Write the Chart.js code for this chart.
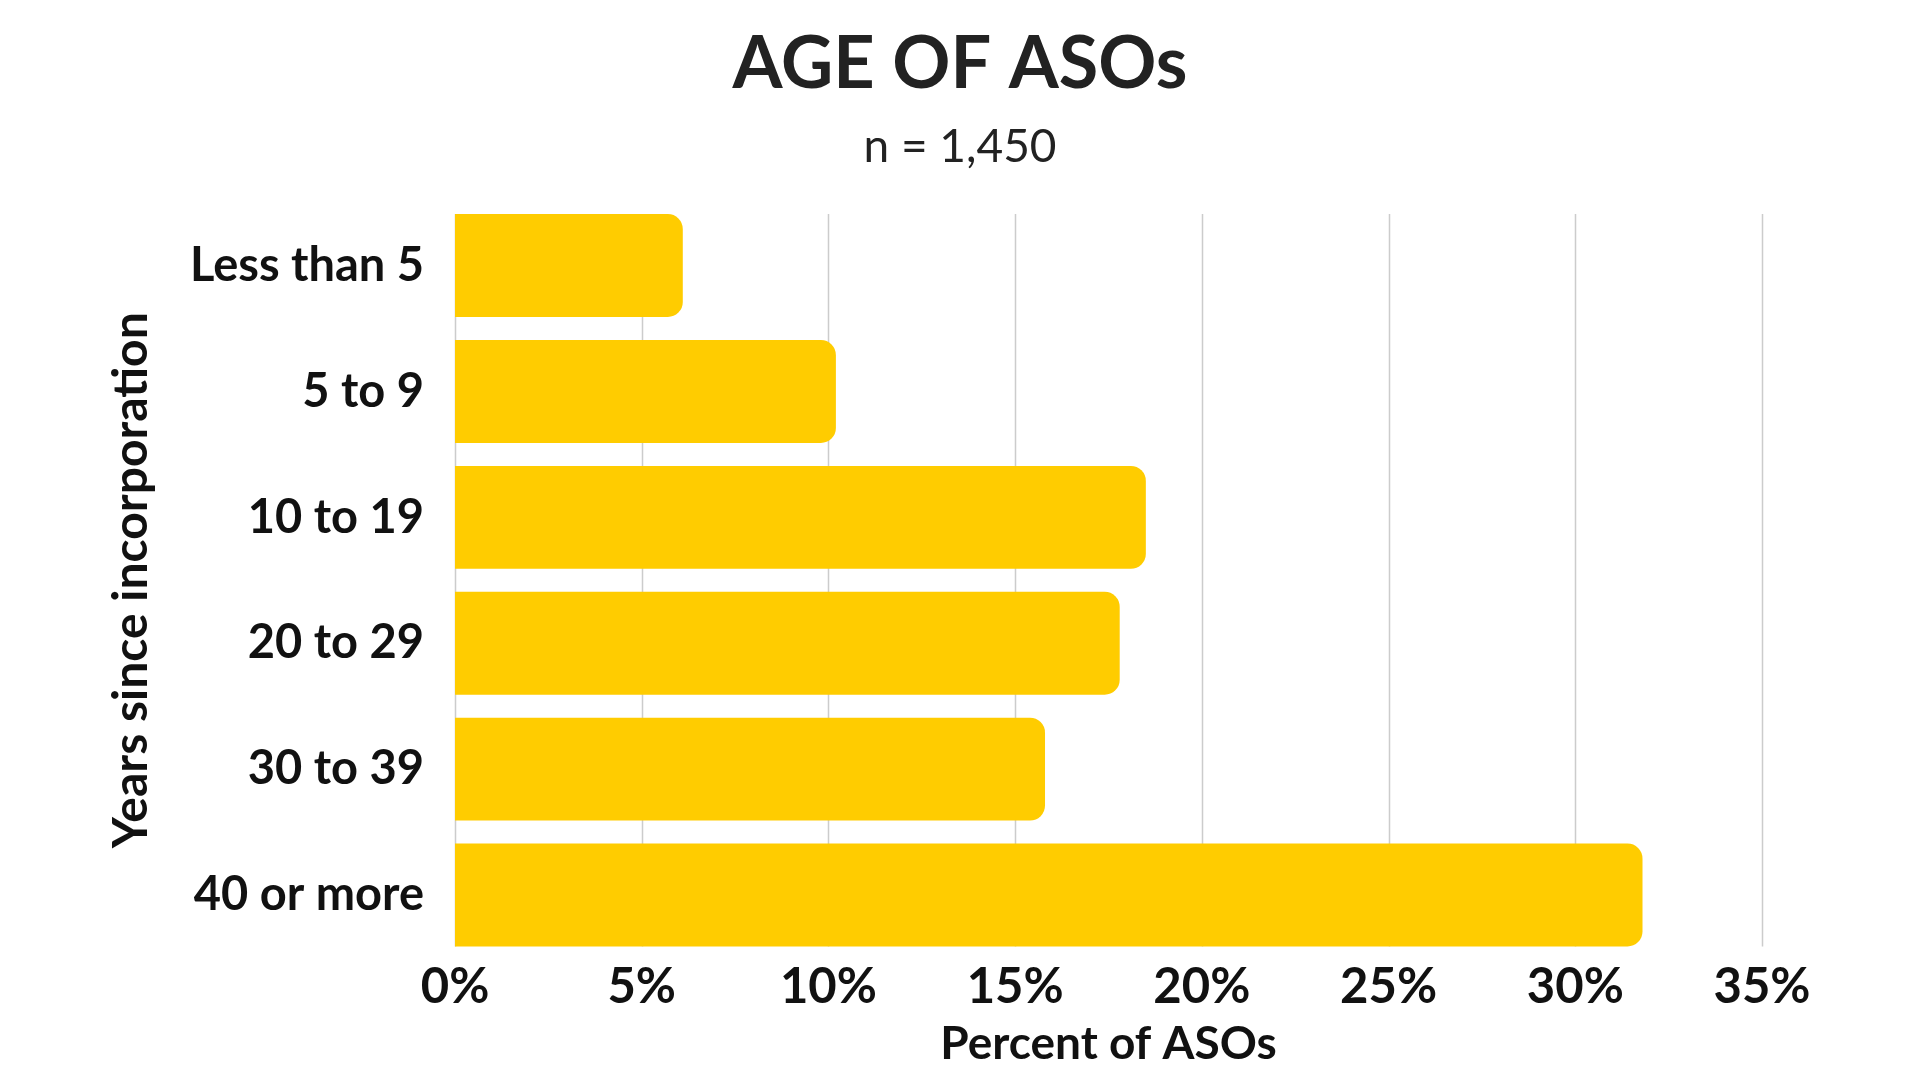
<!DOCTYPE html>
<html>
<head>
<meta charset="utf-8">
<script src="https://cdn.jsdelivr.net/npm/chart.js@4"></script>
<style>
html,body{margin:0;padding:0;background:#fff;}
#wrap{width:1920px;height:1080px;}
</style>
</head>
<body>
<div id="wrap"><canvas id="c" width="1920" height="1080"></canvas></div>
<script>
const categories = ["Less than 5", "5 to 9", "10 to 19", "20 to 29", "30 to 39", "40 or more"];
const percentValues = [6.1, 10.2, 18.5, 17.8, 15.8, 31.8];
const tickValues = [0, 5, 10, 15, 20, 25, 30, 35];

const FONT = "Lato, 'Open Sans', sans-serif";
const INK = "#111111";
const BAR = "#FFCC00";
const GRID = "#cccccc";

const gridPlugin = {
  id: 'barGrid',
  beforeDatasetsDraw(chart) {
    const x = chart.scales.x;
    const meta = chart.getDatasetMeta(0);
    const first = meta.data[0], last = meta.data[meta.data.length - 1];
    const top = first.y - first.height / 2;
    const bottom = last.y + last.height / 2;
    const ctx = chart.ctx;
    ctx.save();
    ctx.strokeStyle = GRID;
    ctx.lineWidth = 1.5;
    x.ticks.forEach(t => {
      const px = Math.round(x.getPixelForValue(t.value)) + 0.5;
      ctx.beginPath();
      ctx.moveTo(px, top);
      ctx.lineTo(px, bottom);
      ctx.stroke();
    });
    ctx.restore();
  }
};

new Chart(document.getElementById('c'), {
  type: 'bar',
  data: {
    labels: categories,
    datasets: [{
      data: percentValues,
      backgroundColor: BAR,
      borderRadius: 15,
      borderSkipped: 'start',
      barPercentage: 0.8175,
      categoryPercentage: 1.0
    }]
  },
  plugins: [gridPlugin],
  options: {
    indexAxis: 'y',
    responsive: false,
    animation: false,
    layout: { padding: { top: 0, left: 0, right: 0, bottom: 8 } },
    plugins: {
      legend: { display: false },
      tooltip: { enabled: false },
      title: {
        display: true,
        text: 'AGE OF ASOs',
        color: '#222222',
        font: { family: FONT, size: 72, weight: 'bold' },
        padding: { top: 22, bottom: 0 }
      },
      subtitle: {
        display: true,
        text: 'n = 1,450',
        color: '#222222',
        font: { family: FONT, size: 46, weight: 'normal' },
        padding: { top: 11, bottom: 28 }
      }
    },
    scales: {
      x: {
        type: 'linear',
        min: 0,
        max: 35,
        afterBuildTicks(scale) { scale.ticks = tickValues.map(v => ({ value: v })); },
        ticks: {
          color: INK,
          padding: 0,
          font: { family: FONT, size: 49, weight: 'bold' },
          callback: v => v + '%'
        },
        grid: { display: false, drawTicks: false },
        border: { display: false },
        title: {
          display: true,
          text: 'Percent of ASOs',
          color: INK,
          font: { family: FONT, size: 46, weight: 'bold' },
          padding: { top: 0, bottom: 0 }
        }
      },
      y: {
        ticks: {
          color: INK,
          padding: 31,
          font: { family: FONT, size: 47, weight: 'bold' }
        },
        grid: { display: false, drawTicks: false },
        border: { display: false },
        afterFit(scale) { scale.width = 455; },
        title: {
          display: true,
          text: 'Years since incorporation',
          color: INK,
          font: { family: FONT, size: 48, weight: 'bold' },
          padding: { top: 103, bottom: 0 }
        }
      },
      yRightSpace: {
        type: 'category',
        position: 'right',
        display: true,
        ticks: { display: false },
        grid: { display: false, drawTicks: false },
        border: { display: false },
        afterFit(scale) { scale.width = 158; }
      }
    }
  }
});
</script>
</body>
</html>
